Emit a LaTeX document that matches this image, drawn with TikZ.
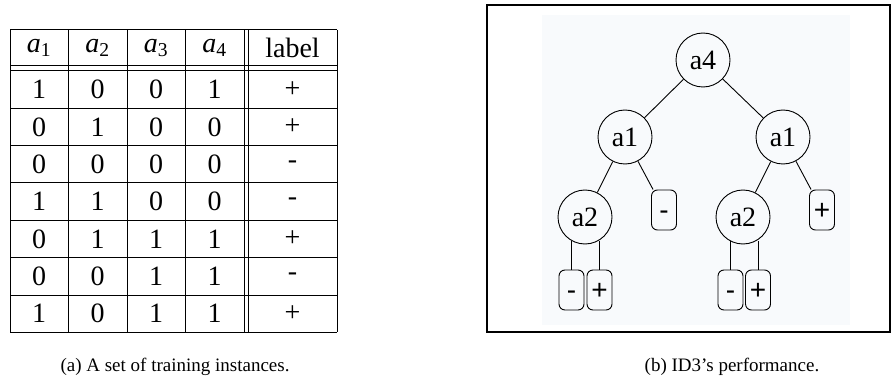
\documentclass[tikz,border=0pt]{standalone}
\usepackage{fontspec}
\setmainfont{Liberation Serif}
\newfontfamily\leaffont{Liberation Sans}
\definecolor{treebg}{RGB}{248,250,252}
\begin{document}
\begin{tikzpicture}[x=1pt,y=-1pt,
  cell/.style={inner sep=0pt,font=\fontsize{28}{32}\selectfont},
  tline/.style={line width=1pt},
  inode/.style={draw,circle,minimum size=54pt,inner sep=0pt,line width=0.9pt,font=\fontsize{28}{32}\selectfont},
  leaf/.style={draw,rounded corners=6pt,minimum width=25pt,minimum height=40pt,inner sep=0pt,line width=0.9pt,text height=18pt,text depth=0pt,font=\leaffont\fontsize{28}{32}\selectfont},
  edge/.style={line width=0.9pt},
  captext/.style={inner sep=0pt,font=\fontsize{19}{22}\selectfont}]
\useasboundingbox (0,0) rectangle (892,385);
% ---------- table ----------
\foreach \y in {30,66,71,108.3,145.6,183,220.3,257.6,295,332.3}
  \draw[tline] (10,\y) -- (337,\y);
\foreach \x in {10,68,127,185,244,248,337}
  \draw[tline] (\x,30) -- (\x,332.3);
\node[cell] (h1) at (39,48) {\textit{a}\textsubscript{1}};
\node[cell] (h2) at (97.5,48) {\textit{a}\textsubscript{2}};
\node[cell] (h3) at (156,48) {\textit{a}\textsubscript{3}};
\node[cell] (h4) at (214.5,48) {\textit{a}\textsubscript{4}};
\node[cell] (h5) at (292.5,48) {label};
\foreach \r/\a/\b/\c/\d/\l in {1/1/0/0/1/+,2/0/1/0/0/+,3/0/0/0/0/-,4/1/1/0/0/-,5/0/1/1/1/+,6/0/0/1/1/-,7/1/0/1/1/+}{
  \pgfmathsetmacro{\yy}{71+37.33*(\r-0.5)}
  \node[cell] (r\r c1) at (39,\yy) {\a};
  \node[cell] (r\r c2) at (97.5,\yy) {\b};
  \node[cell] (r\r c3) at (156,\yy) {\c};
  \node[cell] (r\r c4) at (214.5,\yy) {\d};
  \node[cell] (r\r c5) at (292.5,\yy) {\l};
}
% ---------- tree ----------
\fill[treebg] (542,15) rectangle (850,325);
\draw[line width=2pt] (487,5) rectangle (890,332);
\node[inode] (a4) at (703,60) {a4};
\node[inode] (a1l) at (625,137) {a1};
\node[inode] (a1r) at (783,137) {a1};
\node[inode] (a2l) at (585,217) {a2};
\node[inode] (a2r) at (743,217) {a2};
\node[leaf] (ml) at (664,210) {-};
\node[leaf] (pr) at (822,210) {+};
\node[leaf] (m1) at (571.5,290) {-};
\node[leaf] (p1) at (599.5,290) {+};
\node[leaf] (m2) at (730.5,290) {-};
\node[leaf] (p2) at (758,290) {+};
\draw[edge] (a4) -- (a1l);
\draw[edge] (a4) -- (a1r);
\draw[edge] (a1l) -- (a2l);
\draw[edge] (a1l) -- (ml);
\draw[edge] (a1r) -- (a2r);
\draw[edge] (a1r) -- (pr);
\draw[edge] (m1.north) -- (m1.north |- a2l.-119);
\draw[edge] (p1.north) -- (p1.north |- a2l.-61);
\draw[edge] (m2.north) -- (m2.north |- a2r.-119);
\draw[edge] (p2.north) -- (p2.north |- a2r.-61);
% ---------- captions ----------
\node[captext] (capa) at (175,367) {(a) A set of training instances.};
\node[captext] (capb) at (732,367) {(b) ID3's performance.};
\end{tikzpicture}
\end{document}
